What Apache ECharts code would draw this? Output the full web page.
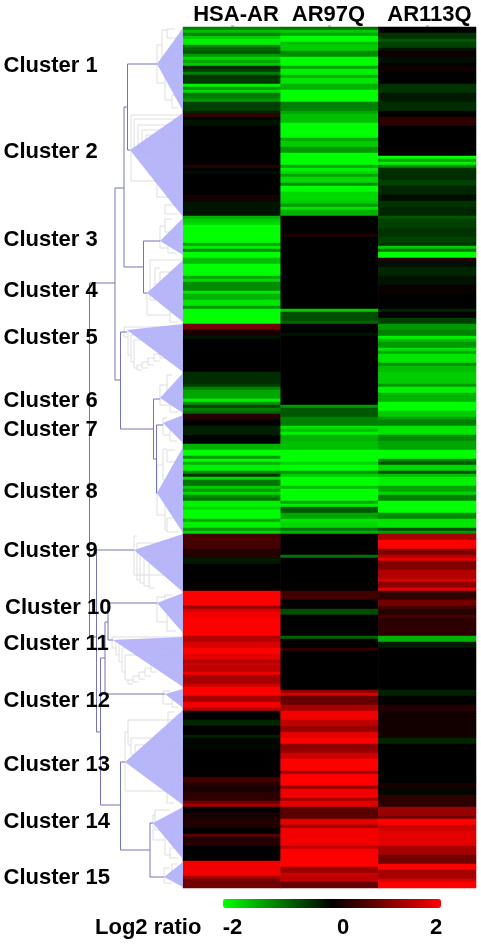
<!DOCTYPE html>
<html>
<head>
<meta charset="utf-8">
<style>
    html, body { margin: 0; padding: 0; background: #fff; }
    #main { width: 481px; height: 944px; }
</style>
<script src="https://cdn.jsdelivr.net/npm/echarts@6/dist/echarts.min.js"></script>
</head>
<body>
<div id="main"></div>
<script>
    var rowCount = 287;
    var samples = ['HSA-AR', 'AR97Q', 'AR113Q'];
    var clusters = ['Cluster 1', 'Cluster 2', 'Cluster 3', 'Cluster 4', 'Cluster 5', 'Cluster 6', 'Cluster 7', 'Cluster 8',
        'Cluster 9', 'Cluster 10', 'Cluster 11', 'Cluster 12', 'Cluster 13', 'Cluster 14', 'Cluster 15'];
    var colorTicks = ['-2', '0', '2'];
    var legendTitle = 'Log2 ratio';

    // log2 ratio: [first row, value], holds until the next entry
    var hsaAr = [[0,-1],[1,-1.5],[2,-1],[3,-1.6],[4,-1.9],[6,-1],[7,-0.8],[8,-0.7],[9,-1.2],[10,-1.7],[11,-1.3],[12,-1.6],
        [13,-0.3],[14,-0.5],[15,-1],[16,-0.45],[19,-1.9],[20,-1.2],[21,-1.7],[22,-0.9],[23,-1],[24,-1.2],[25,-0.5],[28,-0.25],
        [29,0.45],[30,0],[31,-0.15],[33,0],[46,0.3],[47,0],[48,-0.1],[49,0],[56,0.15],[58,-0.15],
        [63,-1.4],[64,-1.6],[65,-1.7],[66,-2],[72,-1.3],[73,-1.9],[74,-1.1],[75,-2],[77,-1.5],[79,-2],[83,-1.3],[84,-1.7],
        [85,-1.1],[88,-1.8],[89,-1.4],[91,-1.8],[93,-1.2],[94,-2],
        [99,0.9],[101,0.2],[103,-0.15],[104,0],[115,-0.35],[119,-0.5],[120,-1],[121,-1.3],[124,-1.9],[125,-1.2],[126,-0.5],
        [127,-1],[128,-0.8],[129,0.3],[131,0],[133,-0.25],[136,0],
        [139,-1.4],[141,-2],[143,-1.2],[144,-2],[145,-1.4],[146,-1.9],[148,-1.1],[149,-0.4],[150,-1.7],[151,-0.9],[153,-1.6],
        [154,-1.2],[155,-1.7],[156,-1.1],[157,-0.9],[158,-1.9],[160,-1.7],[161,-2],[164,-1.3],[165,-1.9],[167,-1.2],[168,-1.7],
        [169,0.55],[174,0.3],[177,-0.2],[179,0],
        [188,2],[193,1.2],[194,1.7],[195,1.9],[197,2],[203,1.4],[205,1.7],[207,2],[209,1.8],[211,1.4],[212,1.6],[213,1.5],
        [215,1.9],[216,1.3],[219,1.6],[220,2],[223,1.3],[225,1.9],[227,1.5],
        [228,0],[231,-0.3],[233,0],[236,-0.25],[237,-0.05],[241,0],[250,0.5],[252,0.3],[253,0.2],[255,0.35],[258,0.9],[259,1.3],
        [260,0],[262,0.2],[264,0.25],[267,0],[269,0.7],[270,0.3],[273,0],
        [278,1.9],[283,1.3],[284,0.9]];

    var ar97q = [[0,-0.9],[1,-1.6],[2,-1.3],[3,-2],[5,-1.5],[6,-1.6],[8,-1.1],[10,-2],[13,-1.3],[14,-1.9],[16,-1.4],[17,-1.8],
        [19,-1.4],[21,-2],[25,-1],[28,-1.3],[29,-1.5],[32,-2],[37,-1.3],[38,-1.6],[40,-1.2],[42,-2],[46,-1.3],[47,-1.9],
        [48,-1.7],[49,-1.3],[50,-1.7],[52,-1.1],[53,-2],[55,-1.7],[58,-1.6],[59,-1.2],[60,-1.8],[61,-1.4],
        [63,0],[69,0.25],[70,0],[94,-1.6],[95,-0.6],[98,-0.8],[99,0],[102,-0.15],[103,0],
        [126,-1.2],[127,-0.7],[130,-1],[133,-1.8],[134,-1.5],[135,-1.9],[136,-1.4],[138,-1.5],[141,-2],
        [145,-1.7],[146,-2],[148,-1.2],[149,-1.6],[150,-2],[153,-1.5],[154,-2],[158,-1.3],[159,-1.9],[160,-0.7],[162,-1.3],
        [164,-1.8],[165,-1.7],[167,-0.9],[168,-1.4],
        [169,0],[176,-0.9],[177,0],[188,0.5],[191,0],[194,-0.6],[196,0],[203,-0.8],[204,0],[207,0.4],[208,0],
        [221,1.1],[222,1.7],[223,0.8],[226,1.3],[228,1.9],[231,1.5],[233,1.2],[235,1.8],[237,2],[239,1.1],
        [241,1.2],[242,1.6],[244,2],[248,1.2],[249,2],[253,1.2],[254,1.9],[257,1.3],[258,1.8],[260,0.7],[264,1.8],[266,1.2],
        [267,1.9],[273,1.5],[274,2],[280,1.2],[282,1.6],[283,1.5],[285,0.8]];

    var ar113q = [[0,0],[2,-0.4],[4,-0.7],[5,-0.5],[7,-0.15],[8,0.1],[10,-0.1],[12,0],[13,0.12],[15,0],[19,-0.4],[22,-0.2],
        [25,-0.35],[28,0],[30,0.35],[33,0],[43,-2],[44,-1.3],[45,-1.9],[46,-1.1],[47,-0.4],
        [48,-0.35],[51,-0.5],[53,-0.3],[56,-0.1],[58,-0.4],[60,-0.3],[63,-0.7],[64,-0.5],[67,-0.4],[70,-0.5],[72,-0.4],
        [73,-1.6],[74,-0.9],[75,-2],[77,0.3],[78,-0.1],[80,-0.3],[83,-0.15],[86,0.08],[89,0],[94,-0.3],[95,0],
        [97,-0.5],[99,-1.2],[101,-1],[103,-1.9],[104,-1.5],[105,-1.2],[107,-1.8],[108,-1.3],[109,-1.8],[112,-1.1],[113,-1.5],
        [115,-1.6],[119,-1.2],[120,-1.9],[122,-1.4],[125,-2],[128,-1.6],[130,-1.2],[131,-1],[133,-1.8],[136,-1.1],[138,-1.3],
        [141,-2],[144,-1],[145,-0.7],[146,-1.7],[148,-0.6],[149,-1.5],[150,-1.9],[153,-1.3],[155,-1.7],[156,-1],[158,-2],
        [162,-1.1],[164,-1.8],[167,-0.6],[168,-1.2],
        [169,1.3],[171,2],[174,1],[176,1.4],[177,1.8],[178,1],[181,1.4],[184,1.7],[185,1.1],[187,1.8],
        [188,0.4],[191,0.9],[193,0.55],[194,0.3],[196,0.55],[197,0.35],[203,-1.4],[205,-0.2],[207,0],[221,-0.25],[223,0],
        [226,0.3],[228,0.15],[237,-0.3],[239,0],[252,0.15],[254,-0.05],[256,0.35],[260,1.2],[263,0.9],[264,2],[266,1.6],
        [268,1.8],[273,1.3],[276,0.9],[279,2],[281,1.3],[284,1.7],[285,2]];

    // dendrogram, read in picture units: distance axis 0-183, leaf axis 27-888
    var apexDistance = [157, 130, 160, 147, 127, 160, 163, 157, 134, 157, 113, 165, 125, 153, 164];
    var apexLeaf = [64, 150, 241, 293, 330, 398, 423, 493, 550, 603, 640, 694, 762, 823, 877];
    var firstLeaf = [28, 113, 218, 260, 324, 373, 415, 447, 534, 593, 637, 689, 710, 807, 862];
    var lastLeaf = [111, 217, 255, 322, 372, 413, 443, 533, 592, 633, 687, 708, 805, 859, 887];

    // [distance, upper leaf, lower leaf, upper child distance, lower child distance]
    var upperLinks = [
        [127.5, 64, 150, 157, 130], [124, 107, 267, 127.5, 143.5], [143.5, 241, 293, 160, 147], [115, 188, 380, 124, 120.5],
        [120.5, 332, 429, 127, 153.5], [153.5, 399, 459, 160, 156.5], [156.5, 425, 493, 163, 157], [89.5, 283, 637, 115, 96.5],
        [96.5, 550, 732, 134, 100.5], [100.5, 658, 805, 105, 120.5], [108, 603, 640, 157, 113], [105, 622, 694, 108, 165],
        [120.5, 762, 850, 125, 150], [150, 823, 877, 153, 164]];
    var leafLinks = [
        [157,45,83,162,165],[162,30,60,167,170],[167,29,38,175,178],[170,50,66,176,178],[165,72,100,170,172],[170,72,82,178,180],[172,95,108,176,178],
        [131,115,181,183,157],[134,119,148,183,138],[138,125,150,183,142],[142,130,152,183,146],[146,135,153,183,150],[150,140,153,183,154],
        [154,147,155,158,158],[158,144,152,162,162],[162,142,150,166,166],[166,140,148,170,170],[170,137,146,174,174],[174,134,144,178,178],
        [157,163,197,168,170],[168,163,177,175,176],[170,185,196,174,176],[165,205,214,176,178],
        [160,226,248,165,168],[165,219,232,172,175],[168,240,253,174,176],
        [150,260,300,183,155],[155,268,295,160,165],[160,272,285,170,172],[170,272,280,176,178],[147,293,315,150,170],[170,312,322,175,178],
        [124,327,337,183,128],[128,331,355,183,131],[131,335,362,183,134],[134,340,368,183,137],[137,365,370,142,142],[142,362,368,148,148],
        [148,358,365,154,154],[154,354,361,160,160],[160,350,358,166,166],[166,346,354,172,172],[172,342,350,178,178],
        [160,385,405,167,170],[167,375,395,172,175],[170,400,412,175,178],
        [163,418,435,167,170],[170,428,441,175,177],
        [157,465,515,163,165],[163,449,480,167,170],[167,450,462,175,178],[165,495,530,170,167],[170,495,512,175,178],[167,518,532,175,178],
        [134,536,575,137,170],[137,543,580,183,140],[140,550,583,183,144],[144,556,586,183,149],[149,563,588,183,155],[170,540,552,176,178],
        [157,597,622,165,167],[165,595,610,173,175],[167,615,631,174,176],
        [112,637,648,183,116],[116,640,655,183,119],[119,643,662,183,122],[122,648,672,183,125],[125,655,680,183,128],[128,680,684,133,133],
        [133,676,682,139,139],[139,672,679,145,145],[145,668,676,151,151],[151,664,672,157,157],[157,660,668,163,163],[163,656,664,170,170],[170,652,660,177,177],
        [163,691,704,170,172],[172,700,707,176,178],
        [125,732,791,128,167],[128,720,745,183,131],[131,738,755,183,135],[135,745,760,183,139],[139,752,768,183,143],[143,770,775,148,148],
        [148,765,772,154,154],[154,760,768,160,160],[160,755,764,166,166],[166,750,760,172,172],[172,745,755,178,178],[167,780,803,172,174],
        [172,782,795,177,178],[168,712,730,174,176],
        [153,815,840,155,165],[155,810,830,170,172],[165,830,855,172,170],[172,832,845,177,178],[170,848,858,175,178],
        [164,868,883,170,172],[172,864,874,177,178]];

    // text placement in the page
    var sampleX = [236, 328.5, 429.5];
    var clusterY = [66, 152, 240, 291, 338, 401, 430, 492, 551, 608, 644, 701, 765, 822, 878];
    var tickX = [232.5, 343, 436];

    function fillRows(steps) {
        var rows = [];
        var s = 0;
        for (var i = 0; i < rowCount; i++) {
            while (s + 1 < steps.length && steps[s + 1][0] <= i) {
                s++;
            }
            rows.push(steps[s][1]);
        }
        return rows;
    }

    var columns = [fillRows(hsaAr), fillRows(ar97q), fillRows(ar113q)];
    var cells = [];
    var rowNames = [];
    for (var r = 0; r < rowCount; r++) {
        rowNames.push(String(r));
        for (var c = 0; c < samples.length; c++) {
            cells.push([c, r, columns[c][r]]);
        }
    }

    function bracketItem(params, api) {
        var top = api.coord([api.value(0), api.value(1)]);
        var bottom = api.coord([api.value(0), api.value(2)]);
        var topEnd = api.coord([api.value(3), api.value(1)]);
        var bottomEnd = api.coord([api.value(4), api.value(2)]);
        return {
            type: 'polyline',
            shape: { points: [topEnd, top, bottom, bottomEnd] },
            style: { stroke: params.seriesIndex === 1 ? '#dedede' : '#7575b5', lineWidth: 1, fill: null },
            silent: true
        };
    }

    function triangleItem(params, api) {
        return {
            type: 'polygon',
            shape: {
                points: [
                    api.coord([api.value(0), api.value(1)]),
                    api.coord([183, api.value(2)]),
                    api.coord([183, api.value(3)])
                ]
            },
            style: { fill: '#b0b0f8', opacity: 0.92 },
            silent: true
        };
    }

    var triangles = clusters.map(function (name, i) {
        return [apexDistance[i], apexLeaf[i], firstLeaf[i], lastLeaf[i]];
    });

    var fontName = '"Liberation Sans", Arial, sans-serif';
    function label(text, x, y, align) {
        return {
            type: 'text',
            x: x,
            y: y,
            z: 100,
            style: {
                text: text,
                fill: '#000',
                font: 'bold 22px ' + fontName,
                textAlign: align,
                textVerticalAlign: 'middle'
            }
        };
    }

    var texts = [];
    samples.forEach(function (name, i) {
        texts.push(label(name, sampleX[i], 15, 'center'));
    });
    clusters.forEach(function (name, i) {
        texts.push(label(name, name === 'Cluster 10' ? 5 : 3.5, clusterY[i], 'left'));
    });
    colorTicks.forEach(function (name, i) {
        texts.push(label(name, tickX[i], 928, 'center'));
    });
    texts.push(label(legendTitle, 95, 928, 'left'));

    var option = {
        animation: false,
        backgroundColor: '#fff',
        grid: [
            { left: 183, top: 27, width: 293, height: 861 },
            { left: 0, top: 27, width: 183, height: 861 }
        ],
        xAxis: [
            {
                type: 'category', gridIndex: 0, position: 'top', data: samples,
                axisLine: { show: false }, axisLabel: { show: false }, splitLine: { show: false },
                axisTick: { show: true, alignWithLabel: true, length: 2, lineStyle: { color: '#c8c8c8', width: 3 } }
            },
            { type: 'value', gridIndex: 1, min: 0, max: 183, show: false }
        ],
        yAxis: [
            { type: 'category', gridIndex: 0, data: rowNames, inverse: true, show: false },
            { type: 'value', gridIndex: 1, min: 27, max: 888, inverse: true, show: false }
        ],
        visualMap: {
            type: 'continuous',
            seriesIndex: 0,
            min: -2,
            max: 2,
            calculable: false,
            orient: 'horizontal',
            left: 223,
            top: 899,
            padding: 0,
            itemWidth: 9,
            itemHeight: 218,
            text: null,
            inRange: { color: ['#00ff00', '#000000', '#ff0000'] }
        },
        series: [
            {
                type: 'heatmap', xAxisIndex: 0, yAxisIndex: 0, data: cells, silent: true,
                emphasis: { disabled: true }, itemStyle: { borderWidth: 0 }, progressive: 0
            },
            {
                type: 'custom', xAxisIndex: 1, yAxisIndex: 1, data: leafLinks, renderItem: bracketItem,
                encode: { x: [0, 3, 4], y: [1, 2] }, z: 2, clip: false
            },
            {
                type: 'custom', xAxisIndex: 1, yAxisIndex: 1, data: triangles, renderItem: triangleItem,
                encode: { x: 0, y: [1, 2, 3] }, z: 3, clip: false
            },
            {
                type: 'custom', xAxisIndex: 1, yAxisIndex: 1, data: upperLinks, renderItem: bracketItem,
                encode: { x: [0, 3, 4], y: [1, 2] }, z: 4, clip: false
            }
        ],
        graphic: texts
    };

    var myChart = echarts.init(document.getElementById('main'), null, { renderer: 'canvas' });
    myChart.setOption(option);
</script>
</body>
</html>
